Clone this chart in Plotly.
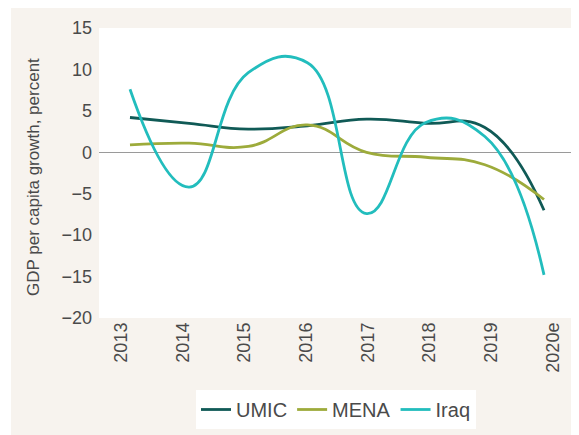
import plotly.graph_objects as go

years = ["2013", "2014", "2015", "2016", "2017", "2018", "2019", "2020e"]
umic = [4.2, 3.5, 2.8, 3.2, 4.0, 3.5, 3.0, -7.0]
mena = [0.9, 1.1, 0.7, 3.3, 0.0, -0.6, -1.5, -5.7]
iraq = [7.6, -4.2, 9.6, 10.8, -7.4, 3.6, 1.9, -14.8]
y_ticks = [15, 10, 5, 0, -5, -10, -15, -20]

idx = list(range(len(years)))

FONT = "Liberation Sans Narrow, Liberation Sans, Arial, sans-serif"
TICKFONT = "Liberation Sans, Arial, sans-serif"
TXT = "#4a4a4a"
BEIGE = "#f7f3ee"

# page is 579 x 435; the html body adds an 8px offset
OFF = 8
W, H = 579 - OFF, 435 - OFF
# plot area in page pixels
L, R, T, B = 99, 575, 28, 318

def px(x):
    return (x - L) / (R - L)

def py(y):
    return (B - y) / (B - T)

fig = go.Figure()
series = [("UMIC", umic, "#105a56"), ("MENA", mena, "#9dab3b"), ("Iraq", iraq, "#22bdbd")]
for name, vals, col in series:
    fig.add_trace(go.Scatter(
        x=idx, y=vals, name=name, mode="lines",
        line=dict(color=col, width=2.8, shape="spline", smoothing=1.3),
        hoverinfo="skip",
    ))

fig.update_layout(
    width=W, height=H,
    margin=dict(l=L - OFF, r=579 - R, t=T - OFF, b=435 - B, pad=0),
    paper_bgcolor=BEIGE,
    plot_bgcolor="white",
    font=dict(family=FONT, color=TXT, size=18),
    showlegend=True,
    legend=dict(
        orientation="h",
        x=px(196), y=py(390), xanchor="left", yanchor="top",
        bgcolor="white",
        font=dict(family=FONT, size=20, color=TXT),
        itemwidth=30,
        tracegroupgap=0,
    ),
    xaxis=dict(
        range=[-0.524, 7.524],
        showticklabels=False, showgrid=False, zeroline=False,
        showline=False, ticks="",
    ),
    xaxis2=dict(
        overlaying="x", anchor="y", side="bottom",
        range=[-0.357, 7.357],
        tickmode="array", tickvals=idx, ticktext=years,
        tickangle=-90, ticks="", showgrid=False, zeroline=False, showline=False,
        tickfont=dict(family=TICKFONT, size=18, color=TXT),
        ticklabelstandoff=0,
    ),
    yaxis=dict(
        range=[-20, 15],
        tickmode="array", tickvals=y_ticks,
        showgrid=False, showline=False, ticks="",
        zeroline=True, zerolinecolor="#9a9a9a", zerolinewidth=1.2,
        tickfont=dict(family=TICKFONT, size=18, color=TXT),
        ticklabelstandoff=6,
    ),
    shapes=[
        dict(type="rect", xref="paper", yref="paper", x0=px(OFF), x1=px(11), y0=py(440), y1=py(OFF),
             fillcolor="white", line=dict(width=0), layer="below"),
    ],
    annotations=[
        dict(text="GDP per capita growth, percent", xref="paper", yref="paper",
             x=px(33), y=py(177), textangle=-90, showarrow=False,
             xanchor="center", yanchor="middle",
             font=dict(family=FONT, size=17, color=TXT)),
    ],
)

# empty trace so the label axis renders
fig.add_trace(go.Scatter(x=[None], y=[None], xaxis="x2", showlegend=False, hoverinfo="skip"))

fig.write_html("out.html")
